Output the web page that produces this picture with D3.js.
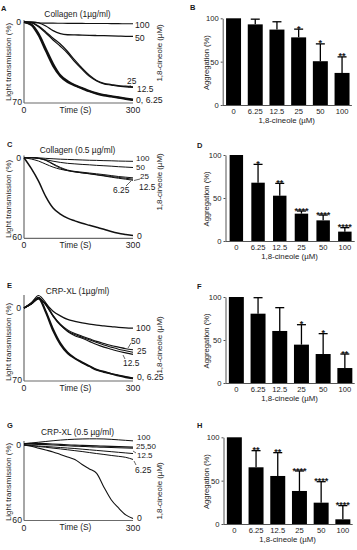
<!DOCTYPE html>
<html><head><meta charset="utf-8">
<script src="https://cdn.jsdelivr.net/npm/d3@7"></script>
<style>
body{margin:0;background:#fff}
svg{display:block}
text{font-family:"Liberation Sans",Arial,Helvetica,sans-serif;fill:#1a1a1a}
</style>
</head><body>
<svg id="chart" width="357" height="550"></svg>
<script>
// ---------- DATA ----------
const times = [0,20,40,60,80,100,120,140,160,180,200,220,240,260,280,300];

// Panel A: Collagen (1 µg/ml), light transmission (%) per 1,8-cineole dose
const a_100  = [0,0.3,0.7,1,1,1.1,1.2,1.2,1.2,1.3,1.3,1.3,1.4,1.4,1.5,1.5];
const a_50   = [0,0,0.8,3.5,7.5,10,11,11.2,11.3,11.5,11.7,11.8,12,12.2,12.4,12.5];
const a_25   = [0,0.5,3.5,8.5,14,19,25.5,33,40,46,50.5,53,54,55,55.5,56];
const a_12_5 = [0,0.6,4.2,9.5,15.5,21,27,34.5,41,47,51,53.5,54.5,55.5,56,56.5];
const a_6_25 = [0,2.5,11.5,25,38,47,52,55,57.5,60,62,63.5,64.5,65.5,66.5,67.5];
const a_0    = [0,2,10,23,36,46,51,54.5,57,59.5,61.5,63,64,65,66,67];

// Panel C: Collagen (0.5 µg/ml)
const c_100  = [0,0,0.1,0.5,0.8,1.1,1.3,1.5,1.7,1.9,2,2.2,2.3,2.5,2.6,2.7];
const c_50   = [0,0,0.5,1.5,2.6,3.5,4.2,4.6,5,5.3,5.7,6,6.3,6.7,7,7.3];
const c_25   = [0,0,0.4,1.8,4.5,7.2,9.2,10.2,10.8,11.4,12,12.6,13.3,14,14.5,15];
const c_12_5 = [0,0,0.5,2,5,7.8,9.6,10.6,11.3,11.9,12.6,13.3,14,14.7,15.3,16];
const c_6_25 = [0,1,2.5,4.8,7,8.6,9.6,10.5,11.3,12,12.8,13.6,14.5,15.3,16,16.8];
const c_0    = [0,8,17.5,29,37.5,42,45,47,48.8,50.3,51.8,53.3,55,56.3,57.2,58];

// Panel E: CRP-XL (1 µg/ml)
const e_100  = [0,-4,-9,-4,3,7.5,11,12.8,14.3,15.5,16.5,17.2,17.8,18.5,19,19.3];
const e_50   = [0,-4,-9.5,-3,7.5,15.5,21,24.5,27,29.5,32,34,36,37.5,39,40];
const e_25   = [0,-4,-10,-3,8,16.5,22,25.5,28,30.5,33,35.5,37.5,39.5,41,42.5];
const e_12_5 = [0,-5,-12,-5,7,16,22.5,26.5,29,32,35,37.5,39.5,41.5,43,44.5];
const e_6_25 = [0,-4.5,-10,3,20,33.5,42.5,48,52,55.5,59,61,63,64.5,66,67.3];
const e_0    = [0,-4,-9,4.5,22,35,43.5,48.5,52.5,56,59.5,61.5,63,65,66.5,67.5];

// Panel G: CRP-XL (0.5 µg/ml)
const g_100  = [-1,-1.6,-2.2,-2.8,-3.4,-3.9,-4.3,-4.6,-4.8,-4.9,-4.9,-4.8,-4.5,-4.1,-3.7,-3.3];
const g_50   = [-1.2,-1.3,-1.3,-1.1,-0.8,-0.5,-0.2,0.1,0.3,0.5,0.7,0.9,1.1,1.3,1.5,1.7];
const g_25   = [-0.6,-0.6,-0.5,-0.3,0,0.3,0.6,0.9,1.1,1.4,1.6,1.8,2,2.2,2.4,2.6];
const g_12_5 = [0,0.4,0.8,1.2,1.6,2,2.4,2.8,3.3,3.8,4.3,4.8,5.3,5.8,6.3,6.8];
const g_6_25 = [0,0.6,1.2,1.8,2.5,3.1,3.8,4.5,5.2,6,6.8,7.5,8.3,9,9.8,11.5];
const g_0    = [0,1,2.5,4,5.5,7.5,9.5,11.5,15.5,19,22.5,33.5,43.5,50,55.5,58.5];

// Bar charts: aggregation (%) vs 1,8-cineole dose
const doses = ["0","6.25","12.5","25","50","100"];
const bMean = [100,93,87,78,50.5,37];
const bErr  = [0,6,9,9.5,20,18.5];
const bSig  = ["","","","*","*","**"];
const dMean = [100,67.8,52.7,31.8,24,10.9];
const dErr  = [0,21.3,14.3,3.1,6.2,4.6];
const dSig  = ["","*","**","****","****","****"];
const fMean = [100,80.6,60.5,44.6,33.7,17.4];
const fErr  = [0,18.6,27.1,23.2,23.7,16.3];
const fSig  = ["","","","*","*","**"];
const hMean = [100,65.4,55.4,38.1,24.6,5.4];
const hErr  = [0,19.2,26.9,23.1,24.2,15.8];
const hSig  = ["","**","**","****","****","****"];

// ---------- DRAW ----------
const svg = d3.select("#chart");
const FONT = '"Liberation Sans",Arial,Helvetica,sans-serif';

const tracePanels = [
  {letter:"A", title:"Collagen (1µg/ml)", max:70,
   series:[[a_100,1.1],[a_50,1.3],[a_25,1.2],[a_12_5,1.2],[a_6_25,1.9],[a_0,1.9]],
   L:{x0:24,x1:133,yTop:22,yBot:103,axisTop:20,letterY:8,titleY:14,ylabY:62,rlabY:53},
   labels:[["100",135,25,8.7],["50",135,38,8.7],["25",127,81,8.4],["12.5",137,89.5,8.4],["0, 6.25",136,99.5,8.7]],
   leaders:[[130.5,85,128.5,88]]},
  {letter:"C", title:"Collagen (0.5 µg/ml)", max:60,
   series:[[c_100,1],[c_50,1],[c_25,1],[c_12_5,1],[c_6_25,1],[c_0,1.5]],
   L:{x0:24,x1:133,yTop:157.7,yBot:238.3,axisTop:155.5,letterY:144,titleY:150,ylabY:199,rlabY:182},
   labels:[["100",136,158.5,8],["50",136,167.5,8],["25",140,176.5,8],["12.5",139,187,8.4],["6.25",113,190.5,8.4],["0",137,236,8.7]],
   leaders:[[140,179,134,180.5],[126,186,131,181]]},
  {letter:"E", title:"CRP-XL (1µg/ml)", max:70, min:-13,
   series:[[e_100,1.3],[e_50,1.1],[e_25,1.1],[e_12_5,1.1],[e_6_25,1.6],[e_0,1.6]],
   L:{x0:24,x1:133,yTop:308,yBot:381,axisTop:295,letterY:285,titleY:291,ylabY:342,rlabY:345},
   labels:[["100",136,328,8.7],["50",131,341,8.4],["25",137,351,8.4],["12.5",123,363,8.4],["0, 6.25",137,377,8.7]],
   leaders:[[131,343,128,348],[125,359,123,355]]},
  {letter:"G", title:"CRP-XL (0.5 µg/ml)", max:60, min:-6,
   series:[[g_100,1],[g_50,1.1],[g_25,1.1],[g_12_5,1],[g_6_25,1],[g_0,1.1]],
   L:{x0:24,x1:133,yTop:445,yBot:520.5,axisTop:441,letterY:425,titleY:432,ylabY:482,rlabY:491},
   labels:[["100",137,437.5,8],["25,50",136,446.5,8],["12.5",137,455.5,8],["6.25",135,470,8.4],["0",137,518,8.7]],
   leaders:[[136,453,133,451],[136,465,134,461]]}
];

tracePanels.forEach(p => {
  const L = p.L;
  const x = d3.scaleLinear().domain([0,300]).range([L.x0, L.x1]);
  const y = d3.scaleLinear().domain([0,p.max]).range([L.yTop, L.yBot]);
  const g = svg.append("g");
  // axes
  g.append("line").attr("x1",x(0)).attr("x2",x(0)).attr("y1",L.axisTop).attr("y2",y(p.max))
    .attr("stroke","#6b6b6b").attr("stroke-width",1.2);
  g.append("line").attr("x1",x(0)).attr("x2",x(300)).attr("y1",y(p.max)).attr("y2",y(p.max))
    .attr("stroke","#6b6b6b").attr("stroke-width",1.2);
  // traces
  const line = d3.line().x((d,i)=>x(times[i])).y(d=>y(d)).curve(d3.curveMonotoneX);
  p.series.forEach(([vals,w]) => {
    g.append("path").attr("d", line(vals)).attr("fill","none")
      .attr("stroke","#111").attr("stroke-width",w).attr("stroke-linejoin","round");
  });
  // tick labels
  g.append("text").attr("x",x(0)-3).attr("y",y(0)).attr("dy","0.35em").attr("text-anchor","end")
    .attr("font-size",8.7).text("0");
  g.append("text").attr("x",x(0)-2).attr("y",y(p.max)-1).attr("dy","0.35em").attr("text-anchor","end")
    .attr("font-size",8.7).text(p.max);
  g.append("text").attr("x",x(0)).attr("y",y(p.max)+7).attr("dy","0.35em").attr("text-anchor","middle")
    .attr("font-size",8.7).text("0");
  g.append("text").attr("x",x(300)).attr("y",y(p.max)+7).attr("dy","0.35em").attr("text-anchor","middle")
    .attr("font-size",8.7).text("300");
  g.append("text").attr("x",x(150)-3).attr("y",y(p.max)+7).attr("dy","0.35em").attr("text-anchor","middle")
    .attr("font-size",8.4).text("Time (S)");
  // title & letter
  g.append("text").attr("x",x(150)-1).attr("y",L.titleY).attr("dy","0.35em").attr("text-anchor","middle")
    .attr("font-size",8.4).text(p.title);
  g.append("text").attr("x", p.letter==="A"?1:7).attr("y",L.letterY).attr("dy","0.35em")
    .attr("font-size",7.5).attr("font-weight","bold").text(p.letter);
  // y label
  g.append("text").attr("transform",`translate(8.5,${L.ylabY}) rotate(-90)`).attr("dy","0.35em")
    .attr("text-anchor","middle").attr("font-size",7.9).text("Light transmission (%)");
  g.append("text").attr("transform",`translate(159,${L.rlabY}) rotate(-90)`).attr("dy","0.35em")
    .attr("text-anchor","middle").attr("font-size",7.9).text("1,8-cineole (µM)");
  // series labels
  p.labels.forEach(([t,lx,ly,fs]) => {
    g.append("text").attr("x",lx).attr("y",ly).attr("dy","0.35em").attr("font-size",fs).text(t);
  });
  p.leaders.forEach(([x1,y1,x2,y2]) => {
    g.append("line").attr("x1",x1).attr("y1",y1).attr("x2",x2).attr("y2",y2)
      .attr("stroke","#222").attr("stroke-width",0.7);
  });
});

const barPanels = [
  {letter:"B", mean:bMean, err:bErr, sig:bSig, L:{ax:222.7, y0:105, y100:18.3, letterY:7, bw:0.31}},
  {letter:"D", mean:dMean, err:dErr, sig:dSig, L:{ax:225.5, y0:241, y100:155, letterY:145, bw:0.38}},
  {letter:"F", mean:fMean, err:fErr, sig:fSig, L:{ax:225.5, y0:383, y100:297, letterY:286, bw:0.31}},
  {letter:"H", mean:hMean, err:hErr, sig:hSig, L:{ax:223.5, y0:524, y100:437.3, letterY:425, bw:0.31}}
];

barPanels.forEach(p => {
  const L = p.L;
  const step = 21.7;
  const x = d3.scaleBand().domain(doses).range([L.ax, L.ax + 6*step])
    .paddingInner(L.bw).paddingOuter(L.bw/2);
  const y = d3.scaleLinear().domain([0,100]).range([L.y0, L.y100]);
  const g = svg.append("g");
  const rows = doses.map((d,i)=>({d, m:p.mean[i], e:p.err[i], s:p.sig[i]}));
  // bars
  g.selectAll("rect").data(rows).join("rect")
    .attr("x", r=>x(r.d)).attr("width", x.bandwidth())
    .attr("y", r=>y(r.m)).attr("height", r=>y(0)-y(r.m)).attr("fill","#000");
  // error bars (upper only)
  const capW = 4.5;
  rows.filter(r=>r.e>0).forEach(r=>{
    const cx = x(r.d)+x.bandwidth()/2;
    g.append("line").attr("x1",cx).attr("x2",cx).attr("y1",y(r.m)).attr("y2",y(r.m+r.e))
      .attr("stroke","#000").attr("stroke-width",1.3);
    g.append("line").attr("x1",cx-capW).attr("x2",cx+capW).attr("y1",y(r.m+r.e)).attr("y2",y(r.m+r.e))
      .attr("stroke","#000").attr("stroke-width",1.3);
    if (r.s) {
      g.append("text").attr("x",cx).attr("y",y(r.m+r.e)+2.6).attr("text-anchor","middle")
        .attr("font-size",9).attr("font-weight","bold").text(r.s);
    }
  });
  // y axis
  const ya = g.append("g").attr("transform",`translate(${L.ax},0)`)
    .call(d3.axisLeft(y).tickValues([0,50,100]).tickSize(2).tickSizeOuter(0).tickPadding(2));
  ya.select(".domain").attr("stroke","#555").attr("stroke-width",1);
  ya.selectAll(".tick line").attr("stroke","#555");
  ya.selectAll("text").attr("font-size",7.6).attr("font-family",FONT).attr("fill","#1a1a1a");
  // x axis
  const xa = g.append("g").attr("transform",`translate(0,${L.y0})`)
    .call(d3.axisBottom(x).tickSize(0).tickSizeOuter(0).tickPadding(3.5));
  xa.select(".domain").attr("stroke","#555").attr("stroke-width",1)
    .attr("d",`M${L.ax},0.5H${L.ax+6*step-1}`);
  xa.selectAll("text").attr("font-size",7.6).attr("font-family",FONT).attr("fill","#1a1a1a");
  // labels
  g.append("text").attr("x",L.ax+64).attr("y",L.y0+15).attr("dy","0.35em").attr("text-anchor","middle")
    .attr("font-size",7.8).text("1,8-cineole (µM)");
  g.append("text").attr("transform",`translate(206.5,${(L.y0+L.y100)/2+1}) rotate(-90)`).attr("dy","0.35em")
    .attr("text-anchor","middle").attr("font-size",7.6).text("Aggregation (%)");
  g.append("text").attr("x", p.letter==="B"?190:197).attr("y",L.letterY).attr("dy","0.35em")
    .attr("font-size",7.5).attr("font-weight","bold").text(p.letter);
});
</script>
</body></html>
